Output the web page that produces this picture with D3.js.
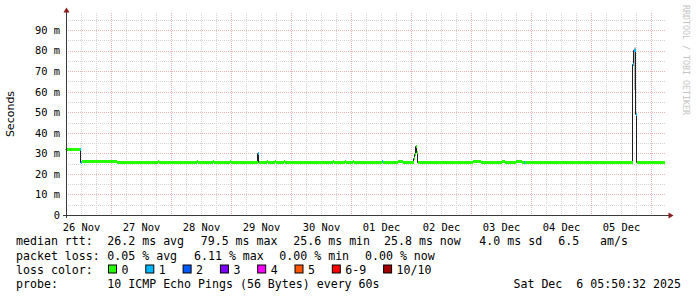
<!DOCTYPE html>
<html>
<head>
<meta charset="utf-8">
<script src="https://cdn.jsdelivr.net/npm/d3@7"></script>
<style>
  body { margin: 0; background: #fff; }
  svg { display: block; }
</style>
</head>
<body>
<svg id="chart" width="697" height="297"></svg>
<script>
// median rtt samples (step data, value holds until next time), seconds shown as "m" (milli)
var medianTimes = [
  '2025-11-26 06:00', '2025-11-26 11:36', '2025-11-26 12:00', '2025-11-26 12:24', '2025-11-27 02:24',
  '2025-11-27 18:48', '2025-11-27 19:12', '2025-11-28 10:24', '2025-11-28 10:48', '2025-11-28 16:48',
  '2025-11-28 17:12', '2025-11-28 23:36', '2025-11-29 00:00', '2025-11-29 10:48', '2025-11-29 11:12',
  '2025-11-29 14:24', '2025-11-29 14:48', '2025-11-29 17:36', '2025-11-29 18:00', '2025-11-29 21:12',
  '2025-11-29 21:36', '2025-11-30 16:48', '2025-11-30 17:12', '2025-11-30 21:36', '2025-11-30 22:00',
  '2025-12-01 00:48', '2025-12-01 01:12', '2025-12-01 12:24', '2025-12-01 12:48', '2025-12-01 18:48',
  '2025-12-01 20:48', '2025-12-02 01:12', '2025-12-02 01:36', '2025-12-02 02:00', '2025-12-02 02:24',
  '2025-12-02 02:48', '2025-12-03 00:48', '2025-12-03 04:00', '2025-12-03 12:24', '2025-12-03 13:36',
  '2025-12-03 18:00', '2025-12-03 20:24', '2025-12-03 21:12', '2025-12-03 21:36', '2025-12-05 16:48',
  '2025-12-05 17:12', '2025-12-05 18:00', '2025-12-05 18:24'
];
var medianValues = [
  31.9, 31.9, 25.7, 26.2, 25.7,
  26.2, 25.7, 26.2, 25.7, 26.2,
  25.7, 26.2, 25.7, 30.4, 25.7,
  26.2, 25.7, 26.2, 25.7, 26.2,
  25.7, 26.2, 25.7, 26.2, 25.7,
  26.2, 25.7, 26.1, 25.7, 26.3,
  25.7, 27.5, 29.5, 33.8, 30.8,
  25.8, 26.2, 25.8, 26.2, 25.8,
  26.2, 25.8, 25.9, 25.8, 73.5,
  80.5, 49.0, 25.8
];
var medianLoss = [
  0, 1, 1, 0, 0,
  0, 0, 0, 0, 0,
  0, 0, 0, 1, 0,
  0, 0, 0, 0, 0,
  0, 0, 0, 0, 0,
  0, 0, 1, 0, 0,
  0, 0, 0, 0, 0,
  0, 0, 0, 0, 0,
  0, 0, 1, 0, 1,
  1, 1, 0
];
var lastSample = '2025-12-06 05:48';

// smoke (spread of the pings) where it shows above the median
var smokeTimes = ['2025-12-05 17:12', '2025-12-05 18:00'];
var smokeLow = [60.8, 60.8];
var smokeHigh = [81.5, 81.5];

var yTicks = [0, 10, 20, 30, 40, 50, 60, 70, 80, 90];
var lossLabels = ['0', '1', '2', '3', '4', '5', '6-9', '10/10'];
var lossColors = ['#26ff00', '#00b8ff', '#0059ff', '#7e00ff', '#ff00ff', '#ff5500', '#ff0000', '#a10000'];
var rttStats = ['26.2 ms avg', '79.5 ms max', '25.6 ms min', '25.8 ms now', '4.0 ms sd', '6.5', 'am/s'];
var lossStats = ['0.05 % avg', '6.11 % max', '0.00 % min', '0.00 % now'];
var probeText = '10 ICMP Echo Pings (56 Bytes) every 60s';
var stampText = 'Sat Dec  6 05:50:32 2025';

(function() {
    'use strict';
    var svg = d3.select('#chart'),
        parse = d3.timeParse('%Y-%m-%d %H:%M'),
        mono = 'DejaVu Sans Mono, monospace',
        left = 66, right = 666, top = 13, bottom = 215,
        t0 = parse('2025-11-26 06:00'), t1 = parse('2025-12-06 06:00');

    var x = d3.scaleTime().domain([t0, t1]).range([left, right]);
    var y = d3.scaleLinear().domain([0, 98.3]).range([bottom, top]);

    svg.append('rect').attr('width', 697).attr('height', 297).attr('fill', '#fff');

    // grid
    var grid = svg.append('g').attr('class', 'grid').attr('stroke-dasharray', '1,1');
    var minorX = d3.timeHour.every(6).range(t0, t1).filter(function(d) { return d.getHours() !== 0; });
    var majorX = d3.timeDay.range(t0, t1);
    var minorY = d3.range(5, 98, 10);
    var majorY = yTicks.slice(1);
    grid.selectAll('.vminor').data(minorX).enter().append('line')
        .attr('x1', function(d) { return Math.round(x(d)) + 0.5; })
        .attr('x2', function(d) { return Math.round(x(d)) + 0.5; })
        .attr('y1', top).attr('y2', bottom).attr('stroke', '#d4d4d4');
    grid.selectAll('.hminor').data(minorY).enter().append('line')
        .attr('x1', left).attr('x2', right)
        .attr('y1', function(d) { return Math.round(y(d)) + 0.5; })
        .attr('y2', function(d) { return Math.round(y(d)) + 0.5; })
        .attr('stroke', '#d4d4d4');
    grid.selectAll('.vmajor').data(majorX).enter().append('line')
        .attr('x1', function(d) { return Math.round(x(d)) + 0.5; })
        .attr('x2', function(d) { return Math.round(x(d)) + 0.5; })
        .attr('y1', top).attr('y2', bottom).attr('stroke', '#ecb4b4');
    grid.selectAll('.hmajor').data(majorY).enter().append('line')
        .attr('x1', left).attr('x2', right)
        .attr('y1', function(d) { return Math.round(y(d)) + 0.5; })
        .attr('y2', function(d) { return Math.round(y(d)) + 0.5; })
        .attr('stroke', '#ecb4b4');

    // smoke
    var smoke = smokeTimes.map(function(t, i) { return {t: parse(t), lo: smokeLow[i], hi: smokeHigh[i]}; });
    svg.append('path').datum(smoke)
        .attr('fill', '#b4b4b4')
        .attr('d', d3.area().curve(d3.curveStepAfter)
            .x(function(d) { return x(d.t); })
            .y0(function(d) { return y(d.lo); })
            .y1(function(d) { return y(d.hi); }));

    // median samples
    var samples = medianTimes.map(function(t, i) {
        return {t: parse(t), v: medianValues[i], loss: medianLoss[i]};
    });
    samples.forEach(function(d, i) {
        d.end = i < samples.length - 1 ? samples[i + 1].t : parse(lastSample);
    });
    var lineData = samples.concat([{t: parse(lastSample), v: samples[samples.length - 1].v}]);

    // dark median line (visible at the jumps)
    svg.append('path').datum(lineData)
        .attr('fill', 'none').attr('stroke', '#202020').attr('stroke-width', 1)
        .attr('d', d3.line().curve(d3.curveStepAfter)
            .x(function(d) { return Math.round(x(d.t)) - 0.5; })
            .y(function(d) { return Math.round(y(d.v)) + 0.5; }));

    // loss coloured band around median
    svg.append('g').selectAll('rect').data(samples).enter().append('rect')
        .attr('x', function(d) { return Math.round(x(d.t)); })
        .attr('width', function(d) { return Math.max(1, Math.round(x(d.end)) - Math.round(x(d.t))); })
        .attr('y', function(d) { return Math.round(y(d.v)) - 1; })
        .attr('height', 3)
        .attr('fill', function(d) { return lossColors[d.loss]; });

    // axes labels
    var noons = d3.timeHour.range(t0, t1).filter(function(d) { return d.getHours() === 12; });
    var xAxis = svg.append('g').attr('transform', 'translate(0,' + bottom + ')')
        .call(d3.axisBottom(x).tickValues(noons).tickFormat(d3.timeFormat('%d %b')).tickSize(0).tickPadding(9));
    xAxis.select('.domain').remove();
    xAxis.selectAll('text').attr('font-family', mono).attr('font-size', '10.4px').attr('fill', '#000');

    var yAxis = svg.append('g').attr('transform', 'translate(' + left + ',0)')
        .call(d3.axisLeft(y).tickValues(yTicks)
            .tickFormat(function(d) { return d ? d + ' m' : '0'; }).tickSize(0).tickPadding(6));
    yAxis.select('.domain').remove();
    yAxis.selectAll('text').attr('font-family', mono).attr('font-size', '10.4px').attr('fill', '#000');

    // axis lines + arrows
    svg.append('line').attr('x1', left + 0.5).attr('x2', left + 0.5).attr('y1', bottom + 3).attr('y2', 10)
        .attr('stroke', '#3a3a3a');
    svg.append('line').attr('x1', left - 3).attr('x2', 670).attr('y1', bottom + 0.5).attr('y2', bottom + 0.5)
        .attr('stroke', '#3a3a3a');
    svg.append('path').attr('d', 'M63.5,12.5L66.5,7.5L69.5,12.5Z').attr('fill', '#8b1a1a');
    svg.append('path').attr('d', 'M668.5,212.5L673.5,215.5L668.5,218.5Z').attr('fill', '#8b1a1a');

    // y title
    svg.append('text').attr('transform', 'translate(14,114) rotate(-90)')
        .attr('text-anchor', 'middle').attr('font-family', 'DejaVu Sans, sans-serif')
        .attr('font-size', '11px').attr('fill', '#000').text('Seconds');

    // watermark
    svg.append('text').attr('transform', 'translate(683,5) rotate(90)')
        .attr('font-family', mono).attr('font-size', '8.3px').attr('fill', '#c4c4c4')
        .text('RRDTOOL / TOBI OETIKER');

    // legend
    var legend = svg.append('g').attr('font-family', mono).attr('font-size', '11.6px').attr('fill', '#000')
        .style('white-space', 'pre');
    var rows = [245, 259.5, 273.5, 287.5];
    var put = function(px, py, txt, anchor) {
        legend.append('text').attr('x', px).attr('y', py).attr('xml:space', 'preserve')
            .attr('text-anchor', anchor || 'start').text(txt);
    };
    put(16, rows[0], 'median rtt:');
    [107.3, 200.7, 293.3, 384, 479.3, 558.3, 600].forEach(function(px, i) { put(px, rows[0], rttStats[i]); });
    put(16, rows[1], 'packet loss:');
    [107.3, 194, 279.3, 365].forEach(function(px, i) { put(px, rows[1], lossStats[i]); });
    put(16, rows[2], 'loss color:');
    var bx = 108;
    lossLabels.forEach(function(lbl, i) {
        legend.append('rect').attr('x', bx + 0.5).attr('y', rows[2] - 8.5).attr('width', 8).attr('height', 8)
            .attr('fill', lossColors[i]).attr('stroke', '#000').attr('stroke-width', 1);
        put(bx + 13.5, rows[2], lbl);
        bx += 13.5 + lbl.length * 7 + 16.8;
    });
    put(16, rows[3], 'probe:');
    put(107.3, rows[3], probeText);
    put(681, rows[3], stampText, 'end');
}());
</script>
</body>
</html>
